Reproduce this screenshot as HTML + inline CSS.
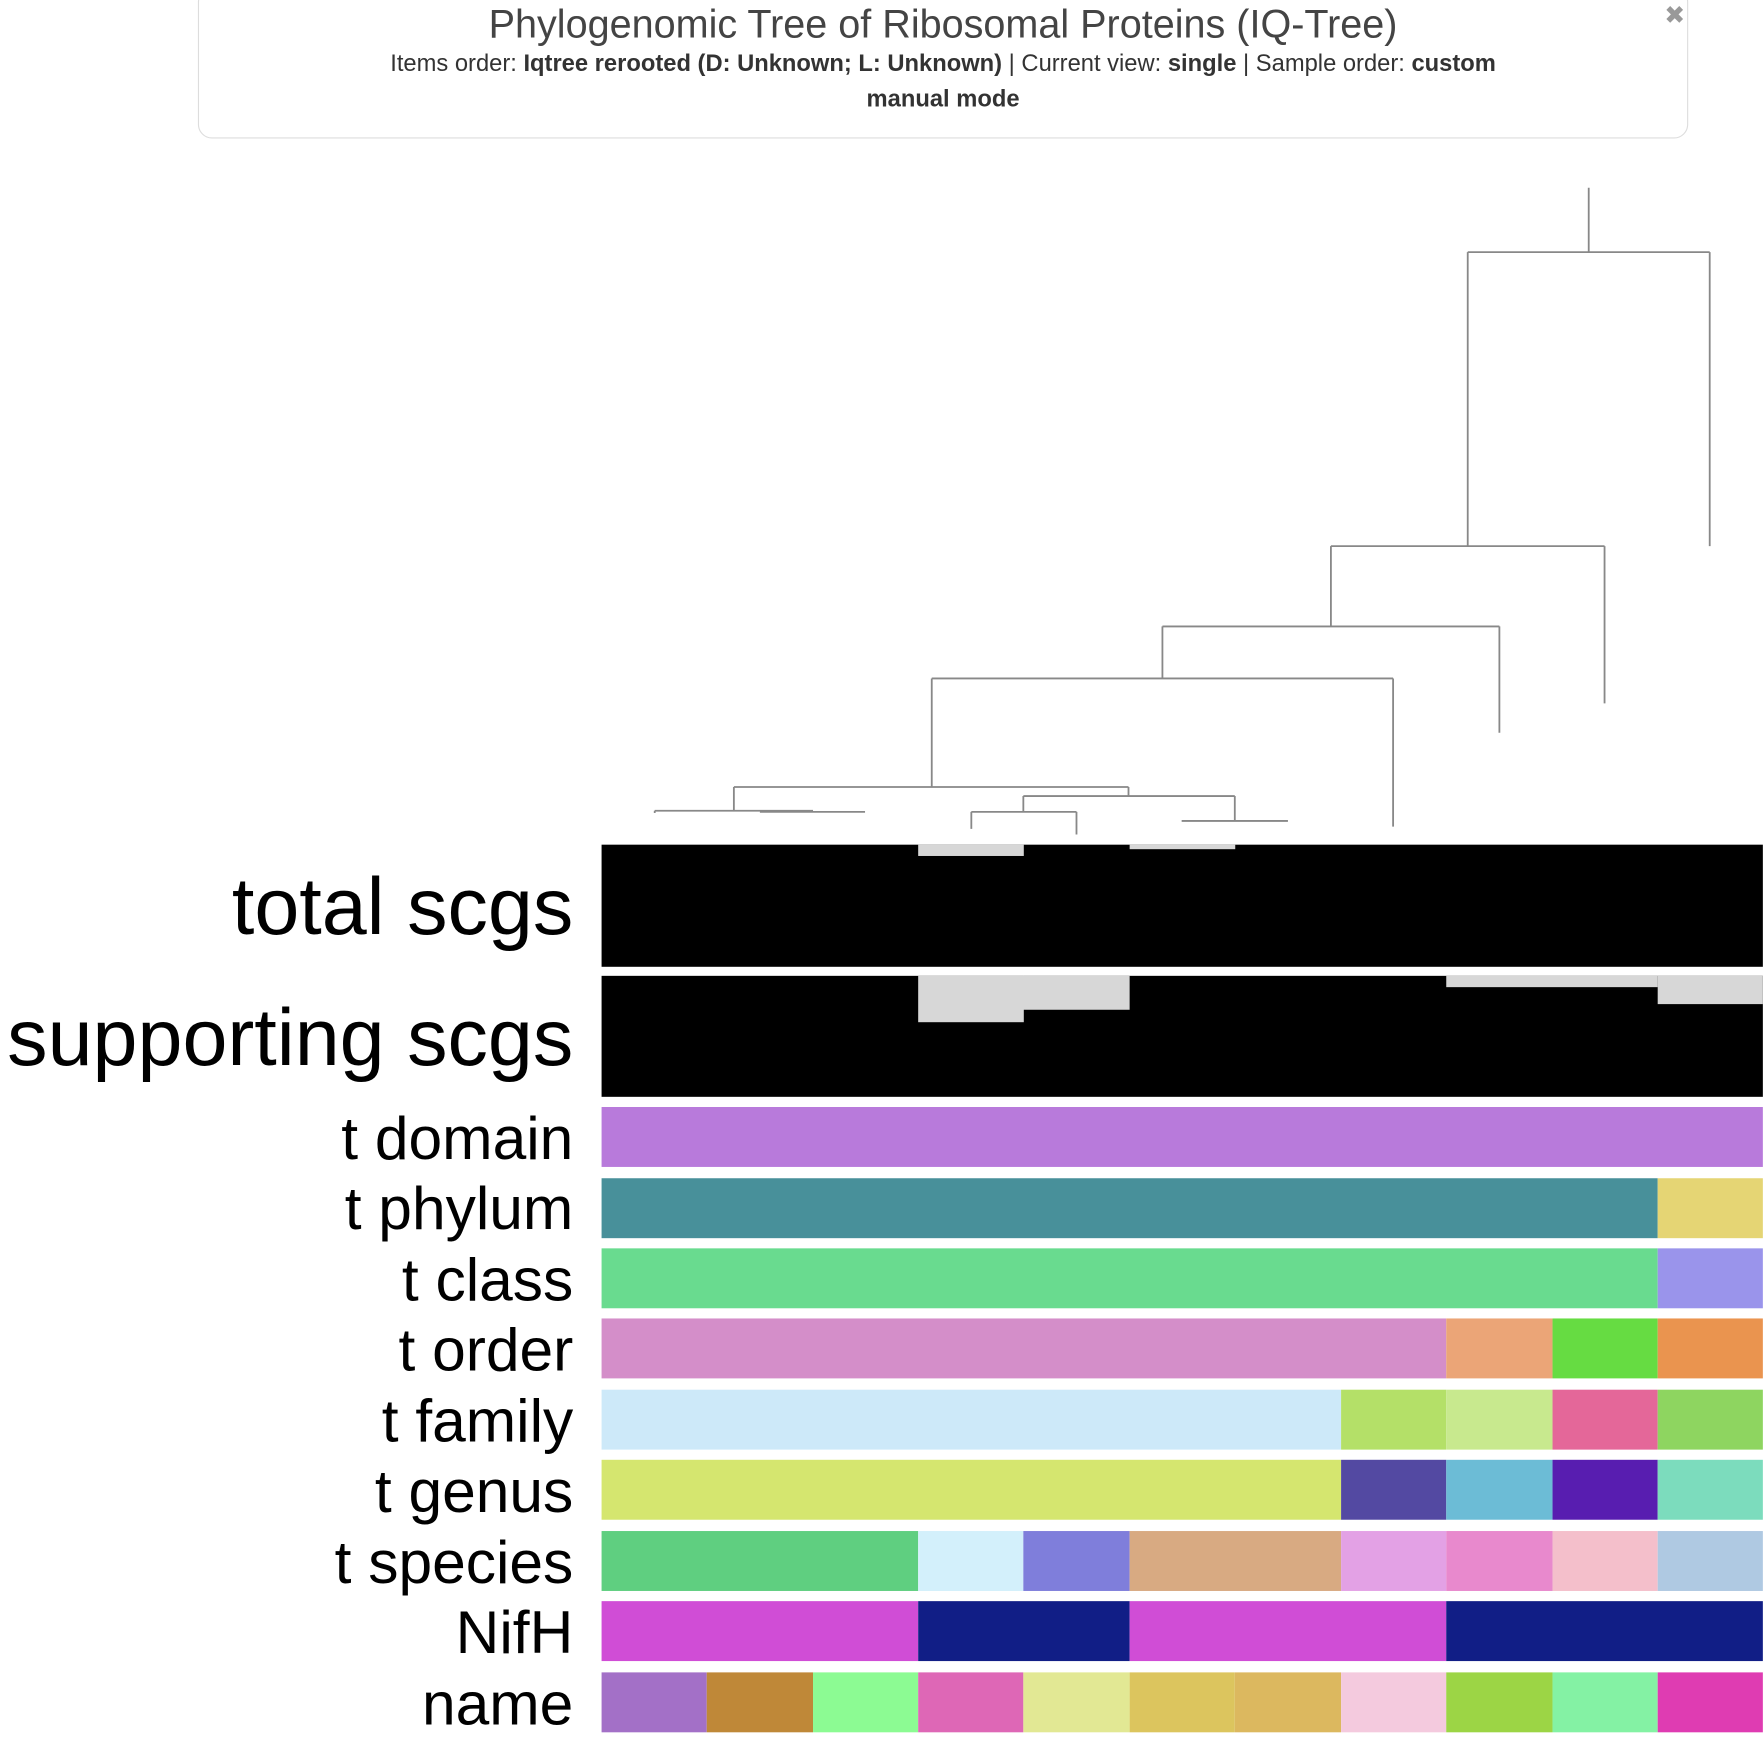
<!DOCTYPE html>
<html><head><meta charset="utf-8"><style>
html,body{margin:0;padding:0;background:#fff;width:1764px;height:1740px;overflow:hidden}
svg{display:block}
text{font-family:"Liberation Sans",sans-serif}
</style></head><body>
<svg width="1764" height="1740" viewBox="0 0 1560 1538.8" xmlns="http://www.w3.org/2000/svg">
<rect x="175.5" y="-10" width="1317" height="132" rx="12" fill="#fff" stroke="#ddd" stroke-width="1"/>
<text x="834" y="33" font-size="35" fill="#444" text-anchor="middle">Phylogenomic Tree of Ribosomal Proteins (IQ-Tree)</text>
<text x="834" y="63" font-size="21" fill="#333" text-anchor="middle">Items order: <tspan font-weight="bold">Iqtree rerooted (D: Unknown; L: Unknown)</tspan> | Current view: <tspan font-weight="bold">single</tspan> | Sample order: <tspan font-weight="bold">custom</tspan></text>
<text x="834" y="94" font-size="21" fill="#333" text-anchor="middle" font-weight="bold">manual mode</text>
<text x="1481" y="21" font-size="22" fill="#999" text-anchor="middle">✖</text>
<g stroke="#888" stroke-width="1.6" fill="none">
<path d="M1405 166V223M1298 223H1512M1512 223V483M1298 223V483M1177 483H1419M1419 483V622M1177 483V554M1028 554H1326M1326 554V648M1028 554V600M824 600H1232M1232 600V731M824 600V696M649 696H998M649 696V717M579 717H719M579 717V719M672 718H765M998 696V704M905 704H1092M905 704V718M859 718H952M859 718V733M952 718V738M1092 704V726M1045 726H1139"/>
</g>
<rect x="532" y="747" width="1027" height="108" fill="#000"/>
<rect x="812" y="747" width="93.4" height="10" fill="#d7d7d7"/>
<rect x="999" y="747" width="93.4" height="4" fill="#d7d7d7"/>
<rect x="532" y="863" width="1027" height="107" fill="#000"/>
<rect x="812" y="863" width="93.4" height="41" fill="#d7d7d7"/>
<rect x="905" y="863" width="94" height="30" fill="#d7d7d7"/>
<rect x="1279" y="863" width="187" height="10" fill="#d7d7d7"/>
<rect x="1466" y="863" width="93" height="25" fill="#d7d7d7"/>
<g font-size="71.5" fill="#000" text-anchor="end">
<text x="507" y="826">total scgs</text>
<text x="507" y="942">supporting scgs</text>
</g>
<g font-size="53.5" fill="#000" text-anchor="end">
<text x="507" y="1025">t domain</text>
<text x="507" y="1087">t phylum</text>
<text x="507" y="1150">t class</text>
<text x="507" y="1212">t order</text>
<text x="507" y="1275">t family</text>
<text x="507" y="1337">t genus</text>
<text x="507" y="1400">t species</text>
<text x="507" y="1462">NifH</text>
<text x="507" y="1525">name</text>
</g>
<rect x="532" y="979" width="1027" height="53" fill="#b87adb"/>
<rect x="532" y="1042" width="934" height="53" fill="#48909a"/><rect x="1466" y="1042" width="93" height="53" fill="#e5d574"/>
<rect x="532" y="1104" width="934" height="53" fill="#69db8f"/><rect x="1466" y="1104" width="93" height="53" fill="#9a94eb"/>
<rect x="532" y="1166" width="747" height="53" fill="#d48ec9"/><rect x="1279" y="1166" width="94" height="53" fill="#eba577"/><rect x="1373" y="1166" width="93" height="53" fill="#66dc42"/><rect x="1466" y="1166" width="93" height="53" fill="#ea944f"/>
<rect x="532" y="1229" width="654" height="53" fill="#cde9f9"/><rect x="1186" y="1229" width="93" height="53" fill="#b4e068"/><rect x="1279" y="1229" width="94" height="53" fill="#c8e98e"/><rect x="1373" y="1229" width="93" height="53" fill="#e46799"/><rect x="1466" y="1229" width="93" height="53" fill="#8ed560"/>
<rect x="532" y="1291" width="654" height="53" fill="#d5e66f"/><rect x="1186" y="1291" width="93" height="53" fill="#5349a2"/><rect x="1279" y="1291" width="94" height="53" fill="#6cbcd6"/><rect x="1373" y="1291" width="93" height="53" fill="#581db0"/><rect x="1466" y="1291" width="93" height="53" fill="#7cdcbd"/>
<rect x="532" y="1354" width="280" height="53" fill="#5fcf80"/><rect x="812" y="1354" width="93" height="53" fill="#d3f0fb"/><rect x="905" y="1354" width="94" height="53" fill="#7f7edb"/><rect x="999" y="1354" width="187" height="53" fill="#d8aa82"/><rect x="1186" y="1354" width="93" height="53" fill="#e3a1e5"/><rect x="1279" y="1354" width="94" height="53" fill="#e889cd"/><rect x="1373" y="1354" width="93" height="53" fill="#f4bfcb"/><rect x="1466" y="1354" width="93" height="53" fill="#afc9e2"/>
<rect x="532" y="1416" width="280" height="53" fill="#d04dd6"/><rect x="812" y="1416" width="187" height="53" fill="#111e86"/><rect x="999" y="1416" width="280" height="53" fill="#d04dd6"/><rect x="1279" y="1416" width="280" height="53" fill="#111e86"/>
<rect x="532" y="1479" width="93" height="53" fill="#a370c7"/><rect x="625" y="1479" width="94" height="53" fill="#bf8838"/><rect x="719" y="1479" width="93" height="53" fill="#8cfb93"/><rect x="812" y="1479" width="93" height="53" fill="#de67b6"/><rect x="905" y="1479" width="94" height="53" fill="#e2e894"/><rect x="999" y="1479" width="93" height="53" fill="#dcc55e"/><rect x="1092" y="1479" width="94" height="53" fill="#dcb85f"/><rect x="1186" y="1479" width="93" height="53" fill="#f4cade"/><rect x="1279" y="1479" width="94" height="53" fill="#9cd545"/><rect x="1373" y="1479" width="93" height="53" fill="#84f2a4"/><rect x="1466" y="1479" width="93" height="53" fill="#df3cb2"/>
</svg>
</body></html>
